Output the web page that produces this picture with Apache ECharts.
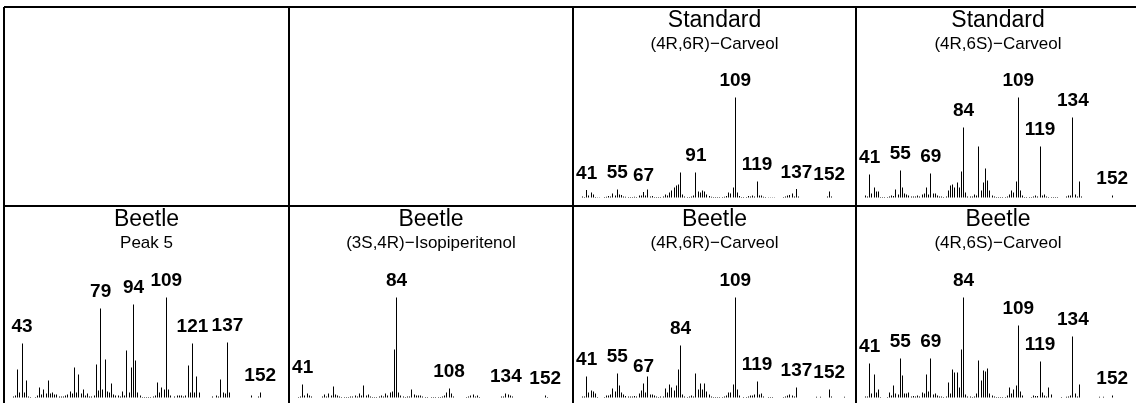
<!DOCTYPE html>
<html>
<head>
<meta charset="utf-8">
<script src="https://cdn.jsdelivr.net/npm/echarts@6/dist/echarts.min.js"></script>
<style>
html, body { margin: 0; padding: 0; background: #fff; }
#main { width: 1136px; height: 403px; }
</style>
</head>
<body>
<div id="main"></div>
<script>
// titres des panneaux (les deux premiers sont vides)
var titles = ['', '', 'Standard', 'Standard', 'Beetle', 'Beetle', 'Beetle', 'Beetle'];
var subtitles = ['', '', '(4R,6R)\u2212Carveol', '(4R,6S)\u2212Carveol', 'Peak 5',
    '(3S,4R)\u2212Isopiperitenol', '(4R,6R)\u2212Carveol', '(4R,6S)\u2212Carveol'];

// spectres : [m/z, intensite relative %]
var std4R6R = [[39,1],[40,0.5],[41,7.5],[42,2],[43,5],[44,3],[45,0.5],[46,0.3],[47,0.3],[49,0.5],[50,0.7],
    [51,1.5],[52,1],[53,4],[54,2],[55,8],[56,3],[57,2.5],[58,1],[59,0.8],[60,0.5],[61,0.5],[62,0.5],[63,0.8],
    [64,0.5],[65,2],[66,2],[67,5.5],[68,2],[69,8],[70,1],[71,1.5],[72,0.5],[73,0.5],[74,0.5],[75,0.5],[76,1],
    [77,3],[78,2],[79,5],[80,7],[81,10],[82,12],[83,13],[84,25],[85,3],[86,1],[87,0.5],[88,0.5],[89,1],[90,2],
    [91,25],[92,6],[93,5],[94,7],[95,6],[96,3],[97,1.5],[98,0.8],[99,0.5],[100,0.5],[101,0.5],[102,0.5],
    [103,0.5],[104,0.8],[105,1.5],[106,5],[107,4],[108,10],[109,100],[110,5],[111,1.5],[112,0.5],[113,0.5],
    [114,0.5],[115,1.5],[116,1],[117,2],[118,1],[119,16],[120,2],[121,2],[122,0.8],[123,0.5],[124,0.3],
    [125,0.3],[126,0.3],[127,0.3],[131,0.5],[132,1],[133,2],[134,2.5],[135,4],[136,1],[137,8.5],[138,1],
    [151,1],[152,6],[153,1]];
var std4R6S = [[39,2],[40,1],[41,23],[42,4],[43,10],[44,6],[45,6],[46,0.5],[47,0.5],[48,0.5],[49,0.5],[50,1],
    [51,2],[52,1.5],[53,8],[54,3],[55,27],[56,10],[57,4],[58,3],[59,2],[60,1],[61,1],[62,1],[63,2],[64,1],
    [65,3],[66,4],[67,10],[68,3],[69,24],[70,4],[71,4],[72,2],[73,1],[74,1],[75,0.5],[76,1],[77,7],[78,12],
    [79,13],[80,10],[81,15],[82,10],[83,26],[84,70],[85,5],[86,1],[87,1],[88,1],[89,3],[90,2],[91,51],[92,7],
    [93,15],[94,29],[95,17],[96,7],[97,2],[98,1],[99,0.5],[100,0.5],[101,0.5],[102,0.5],[103,0.5],[104,1],
    [105,3],[106,7],[107,5],[108,16],[109,100],[110,7],[111,2],[112,0.5],[113,0.5],[114,0.5],[115,0.5],
    [116,1],[117,2],[118,1],[119,51],[120,2],[121,3],[122,1],[123,0.5],[124,0.5],[125,0.5],[126,0.5],
    [127,0.5],[131,1],[132,2],[133,2],[134,80],[135,3],[136,1],[137,16],[138,1],[152,2]];
var peak5 = [[39,1],[40,2],[41,28],[42,5],[43,54],[44,5],[45,17],[46,1],[47,0.5],[49,0.5],[50,2],[51,10],
    [52,3],[53,8],[54,4],[55,17],[56,4],[57,5],[58,3],[59,3],[60,1],[61,1],[62,1],[63,2],[64,3],[65,6],[66,4],
    [67,30],[68,5],[69,23],[70,4],[71,8],[72,2],[73,4],[74,1],[75,1],[76,2],[77,33],[78,7],[79,89],[80,8],
    [81,38],[82,6],[83,5],[84,14],[85,3],[86,2],[87,2],[88,1],[89,6],[90,2],[91,47],[92,5],[93,30],[94,93],
    [95,37],[96,5],[97,2],[98,0.5],[99,0.5],[100,0.5],[101,0.5],[102,0.5],[103,1],[104,2],[105,15],[106,5],
    [107,10],[108,8],[109,100],[110,8],[111,2],[113,1],[114,2],[115,2],[116,2],[117,1],[118,2],[119,32],
    [120,5],[121,54],[122,5],[123,21],[124,5],[130,1],[132,2],[133,1],[134,18],[135,5],[136,4],[137,55],
    [138,5],[148,2],[151,1],[152,5]];
var isopip = [[39,0.5],[40,1],[41,13],[42,2],[43,4],[44,2],[45,1],[50,1],[51,3],[52,1],[53,4],[54,2],[55,11],
    [56,3],[57,2],[58,1],[59,0.5],[60,0.5],[61,0.5],[62,0.5],[63,1],[64,1],[65,2],[66,1],[67,4],[68,2],[69,12],
    [70,2],[71,3],[72,1],[73,0.5],[74,0.5],[75,0.5],[76,1],[77,2],[78,1],[79,4],[80,2],[81,5],[82,6],[83,48],
    [84,100],[85,5],[86,2],[87,1],[88,0.5],[89,1],[90,1],[91,8],[92,3],[93,2],[94,2],[95,2],[96,1],[97,0.5],
    [98,0.5],[100,0.5],[101,0.5],[102,0.5],[103,0.5],[104,0.5],[105,1],[106,2],[107,5],[108,9],[109,4],
    [110,1],[116,0.5],[117,1],[118,2],[119,3],[120,1],[121,2],[122,0.5],[132,1],[133,1],[134,4],[135,3],
    [136,2],[137,1],[152,2],[153,0.5]];
var beetle4R6R = [[39,1],[40,1],[41,21],[42,5],[43,7],[44,6],[45,4],[46,0.5],[49,0.5],[50,2],[51,2],[52,3],
    [53,9],[54,6],[55,24],[56,12],[57,5],[58,3],[59,1.5],[60,1],[61,1],[62,1],[63,1.5],[64,1],[65,4],[66,7],
    [67,14],[68,5],[69,21],[70,3],[71,3],[72,2],[73,1],[74,0.5],[75,1],[76,1],[77,9],[78,5],[79,13],[80,10],
    [81,7],[82,12],[83,28],[84,52],[85,3],[86,1],[87,0.5],[88,1],[89,2],[90,1],[91,24],[92,8],[93,14],[94,8],
    [95,14],[96,6],[97,3],[98,1],[99,0.5],[100,0.5],[101,0.5],[102,0.5],[103,0.5],[104,1],[105,2],[106,5],
    [107,5],[108,13],[109,100],[110,8],[111,2],[113,0.5],[114,0.5],[115,1],[116,2],[117,2],[118,3],[119,16],
    [120,3],[121,4],[122,1],[124,0.5],[125,0.5],[126,0.5],[131,0.5],[132,1],[133,2],[134,3],[135,2],[136,1],
    [137,10],[146,0.7],[148,0.7],[152,8],[153,1],[159,0.7]];
var beetle4R6S = [[39,1],[40,1],[41,34],[42,4],[43,23],[44,5],[45,8],[46,0.5],[49,0.5],[50,5],[51,2],[52,12],
    [53,4],[54,3],[55,39],[56,22],[57,4],[58,4],[59,5],[60,1],[61,1.5],[62,1],[63,2],[64,1],[65,5],[66,4],
    [67,23],[68,6],[69,39],[70,3],[71,4],[72,2],[73,1],[74,1],[75,0.5],[76,1],[77,15],[78,4],[79,28],[80,25],
    [81,25],[82,10],[83,48],[84,100],[85,3],[86,1],[87,1],[88,0.5],[89,1],[90,4],[91,37],[92,17],[93,27],
    [94,26],[95,29],[96,4],[97,2],[98,1],[99,0.5],[100,0.5],[101,0.5],[102,0.5],[103,0.5],[104,2],[105,10],
    [106,4],[107,8],[108,12],[109,72],[110,6],[111,2],[115,0.5],[116,2],[117,1.5],[118,1.5],[119,36],[120,5],
    [121,2],[122,1],[123,10],[124,3],[129,0.5],[131,0.7],[132,1],[133,2],[134,61],[135,4],[136,1],[137,13],
    [146,0.7],[148,0.7],[152,2]];

// pics annotes
var std4R6RLabels = [41, 55, 67, 91, 109, 119, 137, 152];
var std4R6SLabels = [41, 55, 69, 84, 109, 119, 134, 152];
var peak5Labels = [43, 79, 94, 109, 121, 137, 152];
var isopipLabels = [41, 84, 108, 134, 152];
var beetle4R6RLabels = [41, 55, 67, 84, 109, 119, 137, 152];
var beetle4R6SLabels = [41, 55, 69, 84, 109, 119, 134, 152];

var spectra = [null, null, std4R6R, std4R6S, peak5, isopip, beetle4R6R, beetle4R6S];
var peakLabels = [[], [], std4R6RLabels, std4R6SLabels, peak5Labels, isopipLabels, beetle4R6RLabels, beetle4R6SLabels];

// mise en page des cases (la derniere colonne et la derniere ligne depassent du cadre)
var W = 1136, H = 403;
var colEdges = [4, 289, 573, 856, 1140];
var rowEdges = [7, 206, 405];
var baselines = [197.5, 397.5];
var mzMin = 34.75;
var pxPerMz = 2.185;
var font = "'Liberation Sans', Arial, Helvetica, sans-serif";

function renderStick(params, api) {
    var tip = api.coord([api.value(0), api.value(1)]);
    var base = api.coord([api.value(0), 0]);
    return {
        type: 'rect',
        shape: { x: Math.round(tip[0] - 0.5), y: tip[1], width: 1, height: base[1] - tip[1] },
        style: { fill: '#000' }
    };
}

var chart = echarts.init(document.getElementById('main'));
var grids = [], xAxes = [], yAxes = [], seriesList = [], titleList = [], frame = [];

for (var i = 0; i < 8; i++) {
    var col = i % 4, row = Math.floor(i / 4);
    var cellLeft = colEdges[col];
    var cellW = Math.min(colEdges[col + 1], W) - cellLeft;
    var cellTop = rowEdges[row];
    var cellH = Math.min(rowEdges[row + 1], H) - cellTop;
    var yMin = -(cellTop + cellH - baselines[row]);

    grids.push({ left: cellLeft, top: cellTop, width: cellW, height: cellH, show: false });
    xAxes.push({ gridIndex: i, type: 'value', min: mzMin, max: mzMin + cellW / pxPerMz, show: false });
    yAxes.push({ gridIndex: i, type: 'value', min: yMin, max: yMin + cellH, show: false });

    if (titles[i]) {
        var centre = (colEdges[col] + colEdges[col + 1]) / 2;
        titleList.push({
            text: titles[i], subtext: subtitles[i],
            left: centre, top: cellTop + 2, textAlign: 'center',
            padding: 0, itemGap: 4,
            textStyle: { fontSize: 23, fontWeight: 'normal', color: '#000', fontFamily: font },
            subtextStyle: { fontSize: 17, color: '#000', fontFamily: font }
        });
    }

    if (spectra[i]) {
        var labs = peakLabels[i];
        seriesList.push({
            type: 'custom',
            xAxisIndex: i, yAxisIndex: i,
            renderItem: renderStick,
            silent: true,
            data: spectra[i]
        });
        seriesList.push({
            type: 'scatter',
            xAxisIndex: i, yAxisIndex: i,
            symbolSize: 0,
            silent: true,
            itemStyle: { opacity: 1 },
            label: {
                show: true, position: 'top', distance: 7,
                formatter: function (p) { return String(p.value[0]); },
                fontSize: 19, fontWeight: 'bold', color: '#000', fontFamily: font
            },
            data: spectra[i].filter(function (p) { return labs.indexOf(p[0]) >= 0; })
        });
    }
}

// cadres des cases
colEdges.forEach(function (x) {
    frame.push({ type: 'line', shape: { x1: x, y1: rowEdges[0], x2: x, y2: rowEdges[2] },
        style: { stroke: '#000', lineWidth: 2 } });
});
rowEdges.forEach(function (y) {
    frame.push({ type: 'line', shape: { x1: colEdges[0], y1: y, x2: colEdges[4], y2: y },
        style: { stroke: '#000', lineWidth: 2 } });
});

chart.setOption({
    animation: false,
    title: titleList,
    grid: grids,
    xAxis: xAxes,
    yAxis: yAxes,
    graphic: frame,
    series: seriesList
});
</script>
</body>
</html>
